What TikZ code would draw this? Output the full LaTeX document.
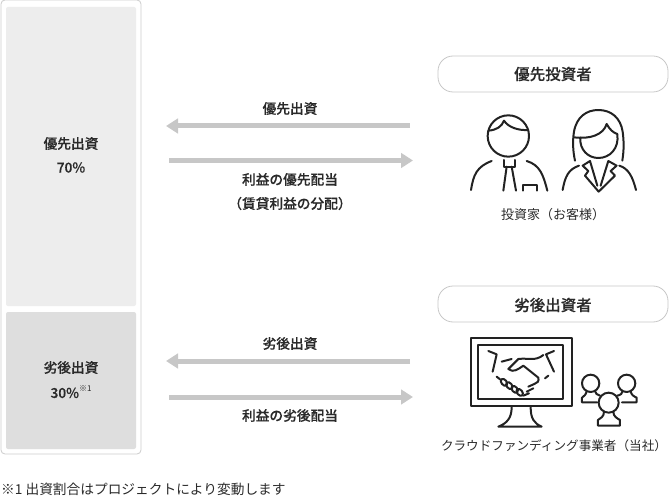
\documentclass[tikz,border=0pt]{standalone}
\usepackage{fontspec}
\setmainfont{Noto Sans CJK JP}[BoldFont={Noto Sans CJK JP Medium},BoldFeatures={FakeBold=0.25}]
\usetikzlibrary{arrows.meta}
\definecolor{ink}{HTML}{2A2A2A}
\definecolor{line}{HTML}{222222}
\tikzset{
 x=1pt,y=-1pt,
 lbl/.style={text=ink,font=\bfseries\fontsize{13.7}{14}\selectfont,inner sep=0pt,anchor=center},
 big/.style={lbl,font=\bfseries\fontsize{15.5}{16}\selectfont},
 reg/.style={text=ink,font=\fontsize{13}{14}\selectfont,inner sep=0pt,anchor=center},
 pill/.style={draw=black!22,line width=.8pt,rounded corners=15pt,fill=white},
 flow/.style={draw=black!22,line width=5pt,-{Triangle[length=12pt,width=14.5pt]}},
 icon/.style={draw=line,line width=2pt,line cap=round,line join=round},
}
\begin{document}
\begin{tikzpicture}
\useasboundingbox (0,0) rectangle (669,497);
\draw[draw=black!20,line width=.8pt,rounded corners=4pt,fill=white] (1,0) rectangle (141,454);
\fill[fill=black!7,rounded corners=2pt] (6,7) rectangle (136,306);
\fill[fill=black!13,rounded corners=2pt] (6,312) rectangle (136,449);
\node[lbl] (a1) at (71,143.5) {優先出資};
\node[lbl] (a2) at (71,167.5) {70\%};
\node[lbl] (b1) at (71,367.5) {劣後出資};
\node[lbl] (b2) at (71,392) {30\%\raisebox{.45em}{\fontsize{8}{8}\selectfont\mdseries ※1}};
\draw[pill] (438,56) rectangle (668,92);
\draw[pill] (438,286) rectangle (668,322);
\node[big] (p1) at (553,74) {優先投資者};
\node[big] (p2) at (553,305) {劣後出資者};
\coordinate (r1) at (410,126); \coordinate (l1) at (166,126);
\coordinate (l2) at (169,160.5); \coordinate (r2) at (413,160.5);
\coordinate (r3) at (410,361); \coordinate (l3) at (166,361);
\coordinate (l4) at (169,397); \coordinate (r4) at (413,397);
\draw[flow] (r1) -- (l1);
\draw[flow] (l2) -- (r2);
\draw[flow] (r3) -- (l3);
\draw[flow] (l4) -- (r4);
\node[lbl] (t1) at (290,108.5) {優先出資};
\node[lbl] (t2) at (290,179.5) {利益の優先配当};
\node[lbl] (t3) at (290,203.5) {（賃貸利益の分配）};
\node[lbl] (t4) at (290,343.5) {劣後出資};
\node[lbl] (t5) at (290,415.5) {利益の劣後配当};
\node[reg] (c1) at (553,215) {投資家（お客様）};
\node[reg,font=\fontsize{12.6}{14}\selectfont] (c2) at (554,446) {クラウドファンディング事業者（当社）};
\node[reg,anchor=west,font=\fontsize{13.7}{15}\selectfont] (fn) at (1,489.5) {※1 出資割合はプロジェクトにより変動します};
% investors
\begin{scope}[shift={(460,100)},x=.3333pt,y=-.3333pt,icon]
 \draw (145,108) circle (62pt/3);
 \draw (85,92) .. controls (110,90) and (125,80) .. (132,62) .. controls (145,82) and (175,92) .. (205,90);
 \draw (33,270) .. controls (40,225) and (50,200) .. (95,183);
 \draw (200,183) .. controls (240,195) and (250,225) .. (262,272);
 \draw (132,180) -- (132,200) -- (165,200) -- (165,180);
 \draw (140,200) -- (130,272);
 \draw (155,200) -- (168,272);
 \draw (190,272) -- (190,255) -- (230,255) -- (230,272);
 % woman
 \draw (345,182) .. controls (338,150) and (338,120) .. (342,95) .. controls (350,50) and (380,30) .. (415,30) .. controls (455,30) and (482,55) .. (488,95) .. controls (492,125) and (492,150) .. (487,182);
 \draw (342,112) .. controls (390,118) and (430,105) .. (440,72) .. controls (450,90) and (460,98) .. (472,102);
 \draw (361,112) .. controls (358,150) and (385,174) .. (415,174) .. controls (450,174) and (478,145) .. (472,102);
 \draw (308,270) .. controls (315,230) and (325,208) .. (357,197);
 \draw (478,197) .. controls (505,205) and (518,230) .. (528,270);
 \draw (412,257) -- (390,183) -- (368,197) -- (385,213) -- (375,227) -- (416,275) -- (465,227) -- (452,213) -- (470,197) -- (445,183) -- (422,257);
\end{scope}
% monitor
\begin{scope}[shift={(460,330)},x=.3333pt,y=-.3333pt,icon]
 \draw[line width=2.2pt,line cap=butt] (32,25) rectangle (335,228);
 \draw[line width=2.2pt,line cap=butt] (55,45) rectangle (310,207);
 \draw (155,232) .. controls (155,265) and (140,280) .. (115,290) -- (245,290) .. controls (222,280) and (212,265) .. (212,232);
 % people
 \draw (392,160) circle (26pt/3);
 \draw (500,160) circle (26pt/3);
 \draw (380,183) .. controls (378,195) and (372,198) .. (366,203) -- (366,217) -- (412,217);
 \draw (405,183) .. controls (405,190) and (412,195) .. (420,197);
 \draw (488,183) .. controls (488,190) and (482,195) .. (472,197);
 \draw (512,183) .. controls (514,195) and (520,198) .. (530,203) -- (530,217) -- (486,217);
 \draw (446,218) circle (30pt/3);
 \draw (432,245) .. controls (432,260) and (422,265) .. (414,270) -- (414,287) -- (480,287) -- (480,270) .. controls (472,265) and (460,260) .. (460,245);
\end{scope}
% handshake
\begin{scope}[shift={(480,345)},x=.3333pt,y=-.3333pt,icon]
 \draw (25,18) -- (50,28) -- (38,80);
 \draw (222,18) -- (198,28) -- (222,80);
 \draw (65,50) -- (95,42);
 \draw (190,30) .. controls (165,50) and (145,38) .. (115,42) -- (85,72) .. controls (100,85) and (115,72) .. (130,62) -- (175,98) .. controls (178,108) and (172,115) .. (163,117);
 \draw (163,117) -- (145,125) (160,130) -- (140,140) (147,145) -- (130,152);
 \draw (50,95) -- (60,103);
 \draw (205,92) -- (195,100);
 \foreach \cx/\cy in {72/112,88/122,104/133,119/142}{
  \draw[rotate around={40:(\cx,\cy)}] (\cx,\cy) ellipse [x radius=2.6pt,y radius=4pt];
 }
\end{scope}
\end{tikzpicture}
\end{document}
